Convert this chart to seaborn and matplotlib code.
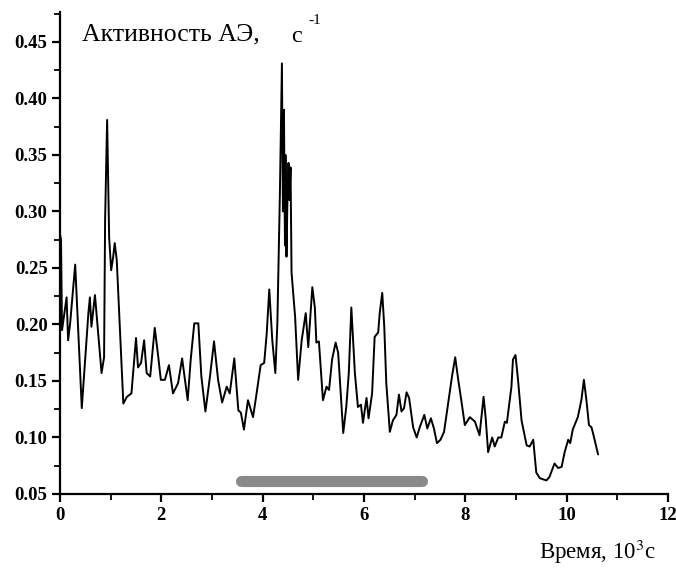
import matplotlib
matplotlib.use("Agg")
import matplotlib.pyplot as plt
from matplotlib.ticker import MultipleLocator, FormatStrFormatter
import seaborn as sns
import pandas as pd

# Time, 10^3 s
time_k = [0.00, 0.02, 0.04, 0.13, 0.16, 0.20, 0.30, 0.33, 0.43, 0.56, 0.59, 0.62,
          0.69, 0.76, 0.82, 0.87, 0.89, 0.93, 0.97, 1.01, 1.05, 1.08, 1.12, 1.25,
          1.32, 1.41, 1.50, 1.54, 1.60, 1.66, 1.71, 1.78, 1.87, 1.94, 1.99, 2.07,
          2.15, 2.23, 2.33, 2.41, 2.52, 2.58, 2.65, 2.73, 2.79, 2.87, 2.96, 3.04,
          3.12, 3.20, 3.29, 3.35, 3.44, 3.52, 3.57, 3.63, 3.71, 3.81, 3.88, 3.96,
          4.03, 4.08, 4.13, 4.19, 4.25, 4.29, 4.34, 4.38, 4.40, 4.42, 4.44, 4.45,
          4.47, 4.49, 4.51, 4.53, 4.55, 4.57, 4.64, 4.70, 4.77, 4.85, 4.90, 4.98,
          5.03, 5.06, 5.11, 5.19, 5.26, 5.31, 5.37, 5.44, 5.49, 5.59, 5.65, 5.70,
          5.75, 5.82, 5.88, 5.94, 5.98, 6.05, 6.09, 6.16, 6.21, 6.28, 6.31, 6.36,
          6.40, 6.44, 6.51, 6.57, 6.64, 6.69, 6.74, 6.79, 6.84, 6.89, 6.97, 7.04,
          7.10, 7.19, 7.25, 7.32, 7.38, 7.44, 7.51, 7.58, 7.66, 7.74, 7.80, 7.86,
          7.92, 7.99, 8.09, 8.19, 8.28, 8.36, 8.40, 8.45, 8.53, 8.58, 8.65, 8.71,
          8.78, 8.82, 8.91, 8.94, 8.99, 9.04, 9.11, 9.21, 9.27, 9.34, 9.40, 9.47,
          9.60, 9.66, 9.76, 9.83, 9.90, 9.96, 10.03, 10.07, 10.12, 10.22, 10.29,
          10.34, 10.39, 10.44, 10.49, 10.53, 10.62]

# AE activity, 1/s
activity = [0.280, 0.275, 0.195, 0.224, 0.186, 0.201, 0.253, 0.224, 0.126, 0.210, 0.224, 0.198,
            0.226, 0.189, 0.157, 0.171, 0.292, 0.381, 0.277, 0.248, 0.260, 0.272, 0.257, 0.130,
            0.136, 0.139, 0.188, 0.162, 0.166, 0.186, 0.157, 0.154, 0.197, 0.171, 0.151, 0.151,
            0.164, 0.139, 0.148, 0.170, 0.133, 0.169, 0.201, 0.201, 0.154, 0.123, 0.154, 0.185,
            0.151, 0.131, 0.145, 0.139, 0.170, 0.124, 0.122, 0.107, 0.133, 0.118, 0.139, 0.164,
            0.166, 0.192, 0.231, 0.186, 0.157, 0.201, 0.316, 0.431, 0.300, 0.390, 0.270, 0.350,
            0.260, 0.313, 0.343, 0.310, 0.339, 0.246, 0.207, 0.151, 0.186, 0.210, 0.180, 0.233,
            0.215, 0.184, 0.185, 0.133, 0.145, 0.142, 0.169, 0.184, 0.175, 0.104, 0.127, 0.157,
            0.215, 0.157, 0.127, 0.129, 0.113, 0.135, 0.117, 0.139, 0.189, 0.193, 0.210, 0.228,
            0.198, 0.148, 0.105, 0.115, 0.120, 0.138, 0.123, 0.126, 0.140, 0.135, 0.109, 0.100,
            0.109, 0.120, 0.108, 0.117, 0.108, 0.095, 0.098, 0.105, 0.130, 0.155, 0.171, 0.151,
            0.133, 0.111, 0.118, 0.114, 0.102, 0.136, 0.118, 0.087, 0.100, 0.092, 0.100, 0.100,
            0.114, 0.113, 0.145, 0.169, 0.173, 0.151, 0.115, 0.093, 0.092, 0.098, 0.069, 0.064,
            0.062, 0.065, 0.077, 0.073, 0.074, 0.087, 0.098, 0.095, 0.107, 0.118, 0.133,
            0.151, 0.133, 0.111, 0.109, 0.102, 0.085]

# Grey interval bar
bar_start = 3.58
bar_end = 7.15
bar_level = 0.0615

x_ticks = [0, 2, 4, 6, 8, 10, 12]
y_ticks = [0.05, 0.10, 0.15, 0.20, 0.25, 0.30, 0.35, 0.40, 0.45]

sns.set_theme(style="white")
plt.rcParams['font.family'] = ['Liberation Serif', 'DejaVu Serif']
plt.rcParams['mathtext.fontset'] = 'stix'

df = pd.DataFrame({"t": time_k, "a": activity})

fig = plt.figure(figsize=(6.76, 5.70), dpi=100)
ax = fig.add_axes([60 / 676, 76 / 570, 608 / 676, 482 / 570])

sns.lineplot(data=df, x="t", y="a", ax=ax, color="black", linewidth=1.4,
             estimator=None, sort=False)
ax.plot([bar_start, bar_end], [bar_level, bar_level], color="#8a8a8a",
        linewidth=8, solid_capstyle="round")

ax.set_xlim(0, 12)
ax.set_ylim(0.05, 0.4765)
ax.set_xticks(x_ticks)
ax.set_yticks(y_ticks)
ax.xaxis.set_minor_locator(MultipleLocator(1))
ax.yaxis.set_minor_locator(MultipleLocator(0.025))
ax.yaxis.set_major_formatter(FormatStrFormatter('%.2f'))
ax.set_xlabel("")
ax.set_ylabel("")

for s in ["top", "right"]:
    ax.spines[s].set_visible(False)
for s in ["left", "bottom"]:
    ax.spines[s].set_linewidth(1.6)
    ax.spines[s].set_color("black")

ax.tick_params(axis="both", which="major", direction="out", length=6, width=1.6,
               colors="black", labelsize=13.5, pad=3)
ax.tick_params(axis="both", which="minor", direction="out", length=4, width=1.3,
               colors="black")
ax.tick_params(axis="both", which="both", bottom=True, left=True)
for lab in ax.get_xticklabels() + ax.get_yticklabels():
    lab.set_fontweight("bold")

fig.text(82 / 676, 1 - 34 / 570, "Активность АЭ,", fontsize=18.5, ha="left",
         va="center", color="black")
fig.text(291 / 676, 1 - 36 / 570, "с", fontsize=17.5, ha="left",
         va="center", color="black")
fig.text(308 / 676, 1 - 21 / 570, "-1", fontsize=11, ha="left", va="center",
         color="black")
fig.text(656 / 676, 1 - 552 / 570, "Время, 10$^{3}$с", fontsize=16.5, ha="right",
         va="center", color="black")

fig.savefig("out.png", dpi=100)
